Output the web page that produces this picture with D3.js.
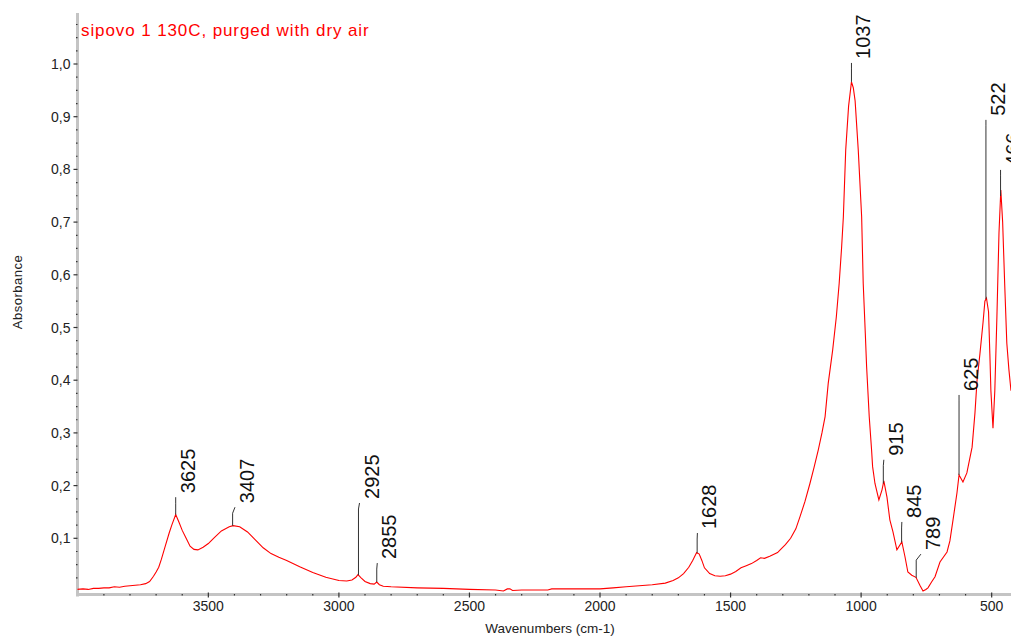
<!DOCTYPE html>
<html>
<head>
<meta charset="utf-8">
<script src="https://cdn.jsdelivr.net/npm/d3@7"></script>
<style>
  html, body { margin: 0; padding: 0; background: #fff; }
  svg { display: block; font-family: "Liberation Sans", Arial, sans-serif; }
</style>
</head>
<body>
<svg id="chart" width="1011" height="636"></svg>
<script>
// ---------- data ----------
const titleText = "sipovo 1 130C, purged with dry air";
const xAxisTitle = "Wavenumbers (cm-1)";
const yAxisTitle = "Absorbance";

const wavenumbers = [4003,3980,3960,3940,3920,3900,3880,3860,3840,3820,3800,3780,3760,3740,3725,3710,3700,3690,3680,3665,3650,3640,3625,3612,3600,3585,3570,3555,3540,3520,3500,3480,3450,3420,3405,3380,3350,3320,3290,3260,3230,3200,3150,3100,3050,3000,2970,2950,2935,2927,2915,2900,2880,2865,2855,2845,2830,2800,2700,2600,2500,2400,2370,2355,2345,2335,2300,2200,2185,2100,2000,1950,1900,1850,1800,1750,1720,1700,1680,1660,1645,1630,1620,1610,1600,1580,1560,1540,1520,1500,1480,1460,1440,1420,1400,1385,1370,1350,1320,1310,1290,1270,1250,1234,1215,1196,1180,1164,1150,1138,1126,1109,1095,1084,1075,1068,1059,1048,1037,1030,1023,1011,998,992,984,979,969,960,956,947,932,920,913,901,890,878,863,844,832,821,806,790,775,763,752,744,729,717,698,671,660,648,633,625,618,610,595,575,564,556,545,533,526,520,512,507,503,495,488,480,472,465,458,450,442,434,426];
const absorbance = [0.003,0.004,0.003,0.005,0.005,0.006,0.006,0.008,0.007,0.009,0.010,0.011,0.012,0.014,0.018,0.028,0.036,0.045,0.060,0.085,0.110,0.125,0.145,0.130,0.115,0.100,0.085,0.079,0.078,0.083,0.090,0.100,0.114,0.122,0.124,0.122,0.112,0.097,0.082,0.071,0.064,0.058,0.046,0.035,0.026,0.020,0.019,0.021,0.026,0.031,0.025,0.018,0.014,0.013,0.017,0.012,0.009,0.008,0.006,0.005,0.003,0.002,0.000,0.004,0.004,0.001,0.002,0.002,0.004,0.004,0.004,0.006,0.008,0.010,0.012,0.015,0.020,0.025,0.033,0.045,0.058,0.073,0.070,0.058,0.044,0.033,0.029,0.028,0.029,0.032,0.037,0.044,0.048,0.052,0.058,0.063,0.062,0.066,0.073,0.078,0.088,0.100,0.118,0.141,0.170,0.204,0.235,0.268,0.300,0.331,0.394,0.457,0.520,0.584,0.650,0.710,0.837,0.920,0.966,0.955,0.930,0.837,0.710,0.584,0.489,0.426,0.331,0.268,0.236,0.204,0.173,0.192,0.209,0.178,0.135,0.112,0.078,0.093,0.065,0.036,0.030,0.026,0.011,0.000,0.003,0.006,0.018,0.027,0.055,0.074,0.095,0.135,0.186,0.220,0.214,0.207,0.224,0.273,0.338,0.400,0.450,0.510,0.550,0.556,0.530,0.450,0.380,0.309,0.380,0.520,0.680,0.761,0.700,0.580,0.470,0.420,0.380];

// peak annotations
const peakLabels   = ["3625","3407","2925","2855","1628","1037","915","845","789","625","522","466"];
const peakWaves    = [3625, 3407, 2925, 2855, 1628, 1037, 915, 845, 789, 625, 522, 466];
const peakTopWaves = [3625, 3398, 2921, 2853, 1627, 1037, 913, 844, 771, 625, 522, 466];
const peakTopLevel = [0.178, 0.159, 0.167, 0.053, 0.110, 1.002, 0.249, 0.131, 0.070, 0.372, 0.894, 0.799];

const xMajorTicks = [3500, 3000, 2500, 2000, 1500, 1000, 500];
const yMajorTicks = [0.1, 0.2, 0.3, 0.4, 0.5, 0.6, 0.7, 0.8, 0.9, 1.0];

// ---------- layout ----------
const plotLeft = 77.5, plotRight = 1011, plotTop = 13, axisY = 594.5;

const x = d3.scaleLinear().domain([4003, 426]).range([77, 1011]);
const y = d3.scaleLinear().domain([0, 1]).range([591, 64]);

const svg = d3.select("#chart");

svg.append("defs").append("clipPath").attr("id", "plotClip")
  .append("rect").attr("x", plotLeft).attr("y", 0).attr("width", plotRight - plotLeft).attr("height", axisY);

// axes bars
svg.append("line").attr("x1", plotLeft).attr("x2", plotLeft).attr("y1", plotTop).attr("y2", axisY + 2)
  .attr("stroke", "#c4c4c4").attr("stroke-width", 3);
svg.append("line").attr("x1", plotLeft - 1.5).attr("x2", plotRight).attr("y1", axisY).attr("y2", axisY)
  .attr("stroke", "#c4c4c4").attr("stroke-width", 3);

// x ticks
const xMinor = d3.range(3900, 400, -100).filter(v => v % 500 !== 0);
const xAxisG = svg.append("g");
xAxisG.selectAll("line.minor").data(xMinor).join("line").attr("class", "minor")
  .attr("x1", d => x(d)).attr("x2", d => x(d)).attr("y1", axisY - 0.5).attr("y2", axisY + 1)
  .attr("stroke", "#333").attr("stroke-width", 1.2);
xAxisG.selectAll("line.major").data(xMajorTicks).join("line").attr("class", "major")
  .attr("x1", d => x(d)).attr("x2", d => x(d)).attr("y1", axisY - 2).attr("y2", axisY + 3)
  .attr("stroke", "#333").attr("stroke-width", 1.2);
xAxisG.selectAll("text").data(xMajorTicks).join("text")
  .attr("x", d => x(d)).attr("y", 610.5).attr("text-anchor", "middle")
  .attr("font-size", 14).attr("fill", "#222").text(d => d);

// y ticks
const yMinor = d3.range(0.025, 1.09, 0.025).filter(v => Math.abs(v * 10 - Math.round(v * 10)) > 1e-6);
const yAxisG = svg.append("g");
yAxisG.selectAll("line.minor").data(yMinor).join("line").attr("class", "minor")
  .attr("x1", plotLeft - 1.5).attr("x2", plotLeft).attr("y1", d => y(d)).attr("y2", d => y(d))
  .attr("stroke", "#333").attr("stroke-width", 1.2);
yAxisG.selectAll("line.major").data(yMajorTicks).join("line").attr("class", "major")
  .attr("x1", plotLeft - 4).attr("x2", plotLeft).attr("y1", d => y(d)).attr("y2", d => y(d))
  .attr("stroke", "#333").attr("stroke-width", 1.2);
const fmt = d3.format(".1f");
yAxisG.selectAll("text").data(yMajorTicks).join("text")
  .attr("x", 70.5).attr("y", d => y(d) + 5).attr("text-anchor", "end")
  .attr("font-size", 14).attr("fill", "#222").text(d => fmt(d).replace(".", ","));

// axis titles
svg.append("text").attr("x", 550).attr("y", 633).attr("text-anchor", "middle")
  .attr("font-size", 13.5).attr("fill", "#222").text(xAxisTitle);
svg.append("text").attr("transform", "translate(22,292) rotate(-90)").attr("text-anchor", "middle")
  .attr("font-size", 13).attr("letter-spacing", 0.5).attr("fill", "#222").text(yAxisTitle);

// spectrum
const pts = wavenumbers.map((w, i) => [w, absorbance[i]]);
const lineGen = d3.line().x(d => x(d[0])).y(d => y(d[1]));
svg.append("path").datum(pts).attr("clip-path", "url(#plotClip)")
  .attr("d", lineGen).attr("fill", "none").attr("stroke", "#ff0000").attr("stroke-width", 1.1);

// interpolate curve value
function valueAt(w) {
  for (let i = 0; i < wavenumbers.length - 1; i++) {
    const a = wavenumbers[i], b = wavenumbers[i + 1];
    if (w <= a && w >= b) {
      const t = (a - w) / (a - b);
      return absorbance[i] + t * (absorbance[i + 1] - absorbance[i]);
    }
  }
  return 0;
}

// peak labels
const ann = svg.append("g").attr("clip-path", "url(#plotClip)");
peakLabels.forEach((lab, i) => {
  const px = x(peakWaves[i]);
  const py = y(valueAt(peakWaves[i]));
  const tx = x(peakTopWaves[i]);
  const ty = y(peakTopLevel[i]);
  const knee = Math.min(py, ty + 6);
  ann.append("path")
    .attr("d", `M${px},${py}L${px},${knee}L${tx},${ty}`)
    .attr("fill", "none").attr("stroke", "#333").attr("stroke-width", 1);
  ann.append("text")
    .attr("transform", `translate(${tx + 19},${ty - 4}) rotate(-90)`)
    .attr("font-size", 20).attr("fill", "#111").text(lab);
});

// title
svg.append("text").attr("x", 81).attr("y", 35.5).attr("font-size", 17)
  .attr("letter-spacing", 0.9).attr("fill", "#ff0000").text(titleText);
</script>
</body>
</html>
